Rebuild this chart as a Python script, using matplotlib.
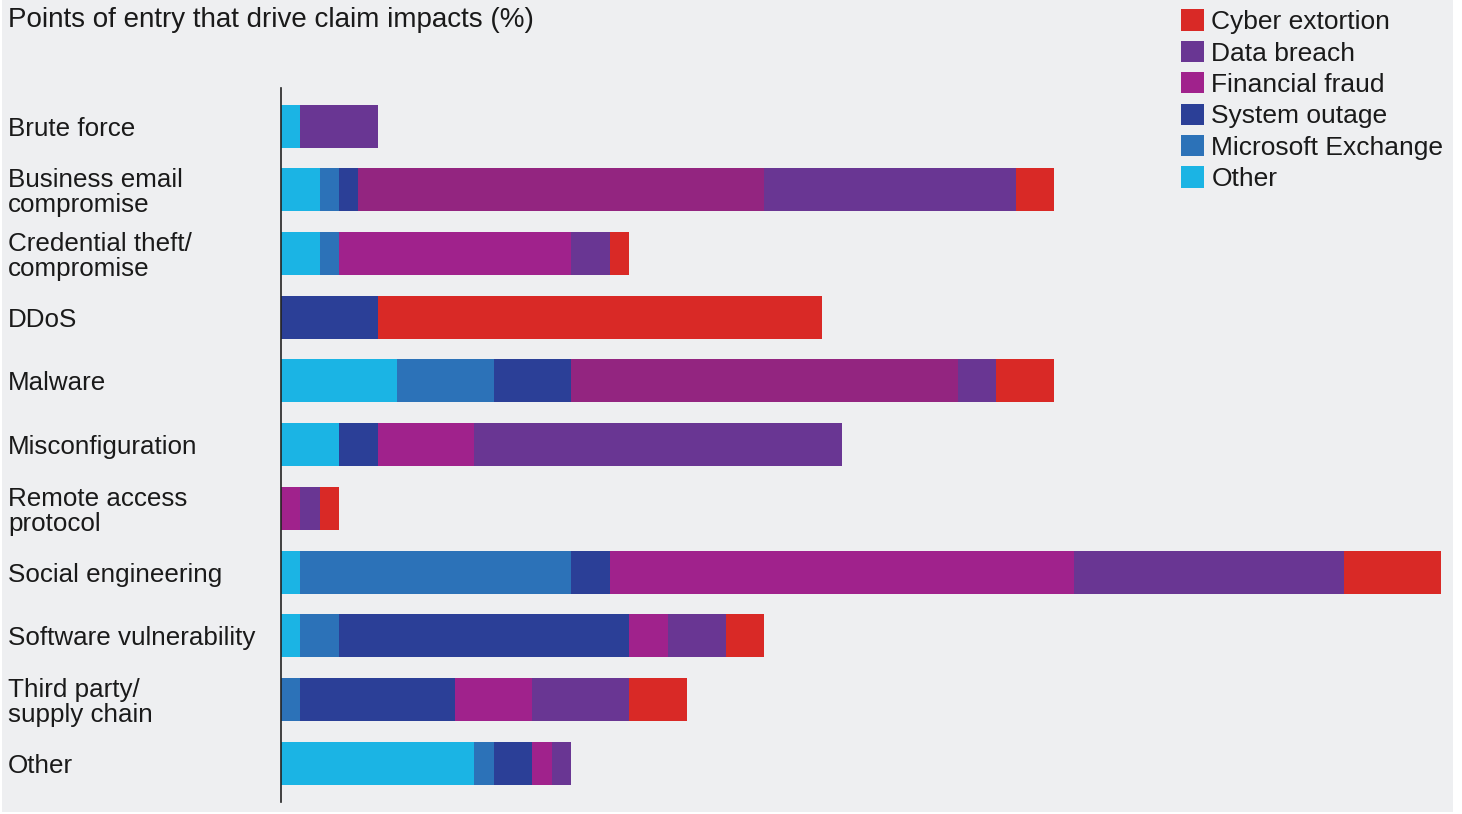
import matplotlib
matplotlib.use("Agg")
import matplotlib.pyplot as plt
from matplotlib.patches import Rectangle
import numpy as np

# ── data ────────────────────────────────────────────────────────────────
categories = [
    "Brute force", "Business email\ncompromise", "Credential theft/\ncompromise",
    "DDoS", "Malware", "Misconfiguration", "Remote access\nprotocol",
    "Social engineering", "Software vulnerability", "Third party/\nsupply chain",
    "Other",
]
series_names = ["Other", "Microsoft Exchange", "System outage",
                "Financial fraud", "Data breach", "Cyber extortion"]

other_vals     = [1, 2, 2, 0, 6, 3, 0, 1, 1, 0, 10]
exchange_vals  = [0, 1, 1, 0, 5, 0, 0, 14, 2, 1, 1]
outage_vals    = [0, 1, 0, 5, 4, 2, 0, 2, 15, 8, 2]
fraud_vals     = [0, 21, 12, 0, 20, 5, 1, 24, 2, 4, 1]
breach_vals    = [4, 13, 2, 0, 2, 19, 1, 14, 3, 5, 1]
extortion_vals = [0, 2, 1, 23, 3, 0, 1, 5, 2, 3, 0]

# ── style ───────────────────────────────────────────────────────────────
colors = ["#1bb4e4", "#2c72b8", "#2b3f97", "#a0228c", "#693693", "#d92926"]
fraud_dark = "#932580"          # darker shade used on two bars
dark_fraud_rows = {1, 4}
BG = "#eeeff1"
TXT = "#1a1a1a"

plt.rcParams["font.family"] = ["Liberation Sans", "DejaVu Sans"]

W, H = 1462, 814
fig = plt.figure(figsize=(W / 100, H / 100), dpi=100, facecolor="white")
fig.patches.append(Rectangle((2 / W, 2 / H), 1451 / W, 1 - 2 / H,
                             transform=fig.transFigure, facecolor=BG,
                             edgecolor="none", zorder=-10))

ax = fig.add_axes([281 / W, 1 - 802 / H, (1441 - 281) / W, (802 - 88) / H])
ax.set_facecolor("none")

y = np.arange(len(categories))
data = [other_vals, exchange_vals, outage_vals, fraud_vals, breach_vals, extortion_vals]
left = np.zeros(len(categories))
handles = []
for name, vals, col in zip(series_names, data, colors):
    vals = np.array(vals, dtype=float)
    cols = [fraud_dark if (name == "Financial fraud" and i in dark_fraud_rows) else col
            for i in range(len(categories))]
    ax.barh(y, vals, left=left, height=0.675, color=cols, linewidth=0)
    handles.append(Rectangle((0, 0), 1, 1, facecolor=col, edgecolor="none"))
    left += vals

ax.set_xlim(0, 60)
ax.set_ylim(10.61, -0.6)
ax.set_yticks(y)
ax.set_yticklabels(categories, fontsize=18.7, color=TXT, ha="left",
                   linespacing=1.05)
ax.tick_params(axis="y", length=0, pad=273 * 0.72)
ax.set_xticks([])
for s in ["top", "right", "bottom"]:
    ax.spines[s].set_visible(False)
ax.spines["left"].set_color("#222222")
ax.spines["left"].set_linewidth(1.2)

fig.text(8 / W, 1 - 20 / H, "Points of entry that drive claim impacts (%)",
         fontsize=20, color=TXT, ha="left", va="center")

leg = fig.legend(handles[::-1], series_names[::-1], loc="upper left",
                 bbox_to_anchor=(1176 / W, 1 - 4 / H), frameon=False,
                 fontsize=19, handlelength=0.87, handleheight=0.87,
                 handletextpad=0.27, labelspacing=0.25, borderaxespad=0,
                 borderpad=0.2)
for t in leg.get_texts():
    t.set_color(TXT)

fig.savefig("out.png", dpi=100, facecolor=fig.get_facecolor())
